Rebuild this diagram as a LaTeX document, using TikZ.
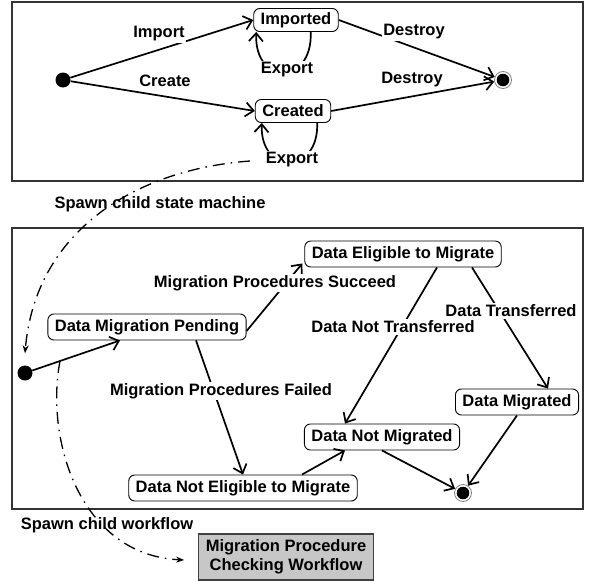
\documentclass[tikz,border=0pt]{standalone}
\usepackage{fontspec}
\setmainfont{Liberation Sans}
\usetikzlibrary{arrows.meta}
\begin{document}
\begin{tikzpicture}[x=1pt,y=-1pt,
  font=\fontsize{16.5}{19}\selectfont\bfseries,
  frame/.style={draw=black!80,line width=1.2pt},
  state/.style={draw,line width=0.9pt,rounded corners=6pt,inner xsep=7pt,inner ysep=0pt,minimum height=26pt,fill=white},
  smallstate/.style={state,minimum height=23pt},
  startdot/.style={circle,fill=black,inner sep=0pt,minimum size=15pt},
  enddot/.style={circle,draw=black!50,line width=0.8pt,fill=white,inner sep=0pt,minimum size=17pt,
    path picture={\fill[black] (path picture bounding box.center) circle (6.3pt);}},
  tr/.style={line width=1.7pt,-{Straight Barb[length=8pt,width=14pt]}},
  lab/.style={fill=white,inner sep=1.5pt},
  spawn/.style={line width=1.3pt,dash pattern=on 12pt off 6pt on 1.5pt off 6pt,-{Stealth[length=8pt,width=6pt]}},
  task/.style={draw=black!75,line width=1.3pt,fill=black!22,align=center,inner xsep=7pt,
    minimum height=46pt,minimum width=173pt}
]
\useasboundingbox (0,0) rectangle (592,581);

% the two state machines
\draw[frame] (12,2) rectangle (583,181);
\draw[frame] (12,228) rectangle (583,509);

% ---- parent state machine ----
\node[startdot] (i1) at (63,80) {};
\node[smallstate] (imp) at (296,20) {Imported};
\node[smallstate] (cre) at (293,111) {Created};
\node[enddot] (f1) at (503,80) {};

\draw[tr] (i1) -- (imp.west);
\draw[tr] (i1) -- (cre.west);
\draw[tr] (imp.east) -- (f1);
\draw[tr] (cre.east) -- (f1);
\draw[tr] ([xshift=-28pt]imp.south east) .. controls +(2,54) and +(-2,54) .. ([xshift=3pt]imp.south west);
\draw[tr] ([xshift=-14pt]cre.south east) .. controls +(2,52) and +(-2,52) .. ([xshift=7pt]cre.south west);

\node[lab] (limport) at (159,34) {Import};
\node[lab] (lcreate) at (165,81) {Create};
\node[lab] (lexp1) at (287,70) {Export};
\node[lab] (lexp2) at (292,160) {Export};
\node[lab] (ldes1) at (414,32) {Destroy};
\node[lab] (ldes2) at (412,80) {Destroy};

% ---- child state machine ----
\node[startdot] (i2) at (25,373) {};
\node[state] (dmp) at (147,327) {Data Migration Pending};
\node[state] (dem) at (403,254) {Data Eligible to Migrate};
\node[state] (dm) at (517,402) {Data Migrated};
\node[state] (dnm) at (382,437) {Data Not Migrated};
\node[state] (dnem) at (243,488) {Data Not Eligible to Migrate};
\node[enddot] (f2) at (463,493) {};

\draw[tr] (i2) -- ([xshift=-27pt]dmp.south);
\draw[tr] ([yshift=-4pt]dmp.east) -- ([xshift=-2pt,yshift=4pt]dem.south west);
\draw[tr] ([xshift=49pt]dmp.south) -- (dnem.north);
\draw[tr] ([xshift=34pt]dem.south) -- ([xshift=-37pt]dnm.north);
\draw[tr] ([xshift=69pt]dem.south) -- ([xshift=31pt]dm.north);
\draw[tr] ([xshift=59pt]dnem.north) -- ([xshift=-37pt]dnm.south);
\draw[tr] (dnm.south) -- (f2);
\draw[tr] (dm.south) -- (f2);

\node[lab] (lsucc) at (275,283) {Migration Procedures Succeed};
\node[lab] (lfail) at (221,391) {Migration Procedures Failed};
\node[lab] (lnot) at (393,327) {Data Not Transferred};
\node[lab] (ltrans) at (511,311) {Data Transferred};

% ---- child workflow ----
\node[task] (mpcw) at (286,557) {Migration Procedure\\Checking Workflow};

% ---- spawning links ----
\node (lsp1) at (160,204) {Spawn child state machine};
\node (lsp2) at (107,525) {Spawn child workflow};
\coordinate (s1) at (250,161);
\coordinate (s2) at (60,361);
\draw[spawn] (s1) .. controls (130,170) and (35,235) .. ([yshift=12pt]i2.north);
\draw[spawn] (s2) .. controls (45,440) and (80,555) .. ([xshift=-14pt,yshift=-3pt]mpcw.west);
\end{tikzpicture}
\end{document}
